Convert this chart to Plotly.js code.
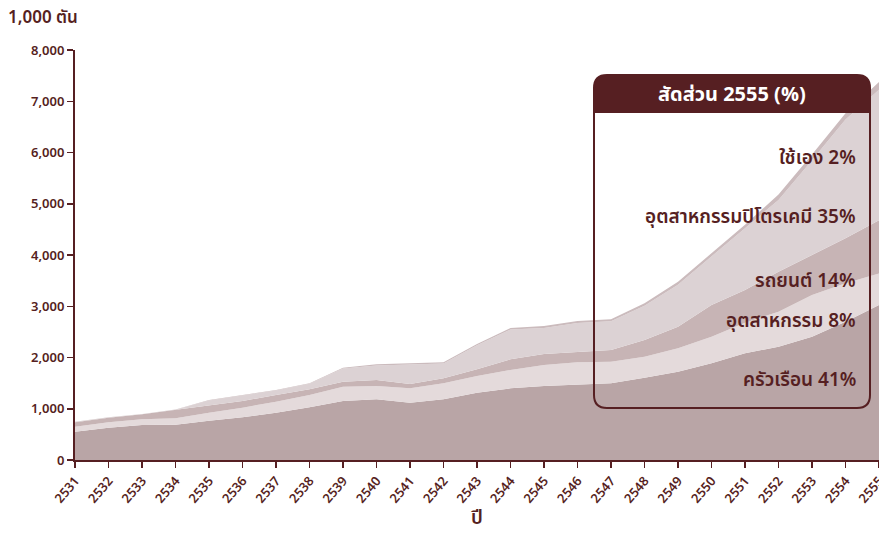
<!DOCTYPE html>
<html>
<head>
<meta charset="utf-8">
<script src="https://cdn.plot.ly/plotly-3.0.1.min.js"></script>
<style>html,body{margin:0;padding:0;background:#fff;}#chart{width:879px;height:533px;}</style>
</head>
<body>
<div id="chart"></div>
<script>
// Years (Thai Buddhist calendar)
const years = [2531,2532,2533,2534,2535,2536,2537,2538,2539,2540,2541,2542,2543,2544,2545,2546,2547,2548,2549,2550,2551,2552,2553,2554,2555];

// Series values (1,000 tonnes)
const household   = [553,631,683,690,768,833,924,1028,1151,1184,1118,1184,1314,1398,1444,1476,1496,1606,1724,1886,2081,2211,2406,2699,3024];
const industry    = [97,104,110,123,156,188,214,240,280,260,280,312,325,358,410,430,423,410,455,520,599,683,814,748,616];
const automobile  = [85,91,98,162,149,130,130,111,97,117,85,97,130,208,214,208,227,325,422,618,637,781,780,878,1040];
const petrochem   = [5,5,5,5,90,110,90,110,255,285,380,290,470,580,510,560,560,670,820,950,1200,1400,1850,2320,2546];
const selfuse     = [5,5,4,5,7,7,8,7,18,21,23,23,24,31,36,38,39,46,59,66,73,105,110,120,150];

const seriesNames  = ["ครัวเรือน","อุตสาหกรรม","รถยนต์","อุตสาหกรรมปิโตรเคมี","ใช้เอง"];
const seriesValues = [household, industry, automobile, petrochem, selfuse];
const seriesColors = ["#b9a5a6","#e4dadb","#c7b4b5","#dcd2d4","#cbbbbd"];

// Legend box labels
const boxTitle  = "สัดส่วน 2555 (%)";
const boxLabels = ["ใช้เอง 2%","อุตสาหกรรมปิโตรเคมี 35%","รถยนต์ 14%","อุตสาหกรรม 8%","ครัวเรือน 41%"];
const boxLabelY = [158,217,281,322,380];

const yTicks = [0,1000,2000,3000,4000,5000,6000,7000,8000];

const dark = "#561f22";
const FONT = "'Noto Sans Thai','Noto Sans','DejaVu Sans',sans-serif";

const W = 879, H = 533;
const M = {l:75, r:0, t:50, b:73};
const PW = W - M.l - M.r, PH = H - M.t - M.b;
const px = x => (x - M.l) / PW;
const py = y => (H - M.b - y) / PH;

function roundRectPath(x0,y0,x1,y1,r,topOnly){
  const p = (x,y)=> px(x).toFixed(5)+","+py(y).toFixed(5);
  let d = "M"+p(x0,y0+r)+" Q"+p(x0,y0)+" "+p(x0+r,y0)+" L"+p(x1-r,y0)+" Q"+p(x1,y0)+" "+p(x1,y0+r);
  if(topOnly){
    d += " L"+p(x1,y1)+" L"+p(x0,y1)+" Z";
  } else {
    d += " L"+p(x1,y1-r)+" Q"+p(x1,y1)+" "+p(x1-r,y1)+" L"+p(x0+r,y1)+" Q"+p(x0,y1)+" "+p(x0,y1-r)+" Z";
  }
  return d;
}

const traces = seriesNames.map((n,i)=>({
  type:"scatter", mode:"lines", x:years, y:seriesValues[i], name:n,
  stackgroup:"one", line:{width:0, color:seriesColors[i]}, fillcolor:seriesColors[i],
  hoverinfo:"skip"
}));

const bx0=594, by0=75, bx1=870, by1=408, hdr=113;
const shapes = [
  {type:"path", xref:"paper", yref:"paper", path:roundRectPath(bx0,by0,bx1,hdr,13,true), fillcolor:dark, line:{width:0}},
  {type:"path", xref:"paper", yref:"paper", path:roundRectPath(bx0,by0,bx1,by1,13,false), fillcolor:"rgba(0,0,0,0)", line:{color:dark,width:2}}
];

const annotations = [
  {xref:"paper", yref:"paper", x:px((bx0+bx1)/2), y:py(95), text:"<b>"+boxTitle+"</b>", showarrow:false,
   font:{family:FONT, size:20, color:"#ffffff"}, xanchor:"center", yanchor:"middle"},
  {xref:"paper", yref:"paper", x:px(6), y:py(18), text:"1,000 ตัน", showarrow:false,
   font:{family:FONT, size:17, color:dark, weight:600}, xanchor:"left", yanchor:"middle"}
];
boxLabels.forEach((t,i)=>{
  annotations.push({xref:"paper", yref:"paper", x:px(858), y:py(boxLabelY[i]), text:t, showarrow:false,
    font:{family:FONT, size:19, color:dark, weight:600}, xanchor:"right", yanchor:"middle"});
});

const layout = {
  width:W, height:H, margin:M, showlegend:false,
  paper_bgcolor:"#ffffff", plot_bgcolor:"#ffffff",
  font:{family:FONT, color:dark},
  xaxis:{range:[2531,2555], tickvals:years, ticktext:years.map(String), tickangle:-50,
    ticklabeloverflow:"allow",
    showgrid:false, zeroline:false, showline:true, linecolor:dark, linewidth:2,
    ticks:"outside", ticklen:6, tickwidth:1.5, tickcolor:dark,
    tickfont:{family:FONT, size:13, color:dark, weight:600},
    title:{text:"ปี", font:{family:FONT, size:19, color:dark, weight:600}, standoff:12}},
  yaxis:{range:[0,8000], tickvals:yTicks, tickformat:",d",
    showgrid:false, zeroline:false, showline:true, linecolor:dark, linewidth:2,
    ticks:"outside", ticklen:6, tickwidth:1.5, tickcolor:dark,
    tickfont:{family:FONT, size:13, color:dark, weight:600}},
  shapes:shapes, annotations:annotations
};

Plotly.newPlot("chart", traces, layout, {displayModeBar:false, staticPlot:true});
</script>
</body>
</html>
